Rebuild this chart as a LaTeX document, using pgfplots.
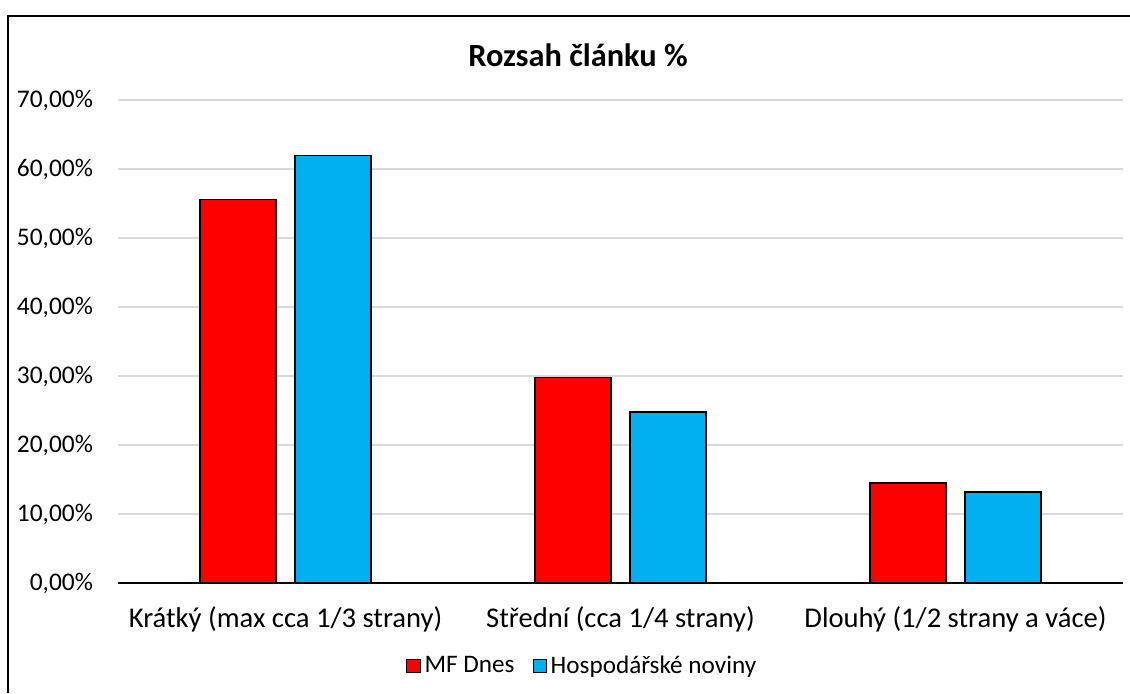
\documentclass[border=0pt]{standalone}
\usepackage{fontspec}
\setmainfont{Carlito}
\usepackage{pgfplots}
\pgfplotsset{compat=1.18}
\definecolor{mfred}{HTML}{FF0000}
\definecolor{hnblue}{HTML}{00B0F0}
\definecolor{gridgray}{HTML}{D9D9D9}
\begin{document}
\begin{tikzpicture}
\useasboundingbox (0,0) rectangle (565pt,-346.5pt);
% outer frame (left and top only, as in the reference)
\draw[line width=1pt] (4pt,-346.5pt) -- (4pt,-8pt) -- (565pt,-8pt);
\begin{axis}[
  at={(59pt,-291.5pt)}, anchor=south west,
  scale only axis, width=502.5pt, height=241.5pt,
  ybar=9.5pt, bar width=38pt,
  xmin=-0.5, xmax=2.5, ymin=0, ymax=70,
  xtick={0,1,2},
  xticklabels={Krátký (max cca 1/3 strany), Střední (cca 1/4 strany), Dlouhý (1/2 strany a váce)},
  ytick={0,10,...,70},
  yticklabel={\pgfmathprintnumber{\tick}\%},
  /pgf/number format/.cd, use comma, fixed, fixed zerofill, precision=2, assume math mode=true,
  /pgfplots/.cd,
  major tick length=0pt,
  axis x line=bottom, axis y line=left,
  axis line style={-},
  x axis line style={black, line width=0.6pt},
  y axis line style={draw=none},
  ymajorgrids, grid style={gridgray, line width=0.6pt},
  yticklabel style={font=\fontsize{12.7}{15}\selectfont, xshift=-9pt},
  xticklabel style={font=\fontsize{14.3}{17}\selectfont, yshift=-8pt},
  legend style={at={(0.463,-0.172)}, anchor=center, draw=none, fill=none,
    legend columns=2, font=\fontsize{12.6}{15}\selectfont,
    /tikz/every even column/.append style={column sep=7pt}},
  legend image code/.code={\draw[#1, line width=0.5pt] (0pt,-3.3pt) rectangle (6.6pt,3.3pt);},
  every axis plot/.append style={draw=black, line width=0.6pt},
]
\addplot[fill=mfred] coordinates {(0,55.6) (1,29.8) (2,14.5)};
\addlegendentry{MF Dnes}
\addplot[fill=hnblue] coordinates {(0,62.0) (1,24.8) (2,13.2)};
\addlegendentry{Hospodářské noviny}
\end{axis}
\node[font=\bfseries\fontsize{16.2}{19}\selectfont] at (289pt,-27.5pt) {Rozsah článku \%};
\end{tikzpicture}
\end{document}
